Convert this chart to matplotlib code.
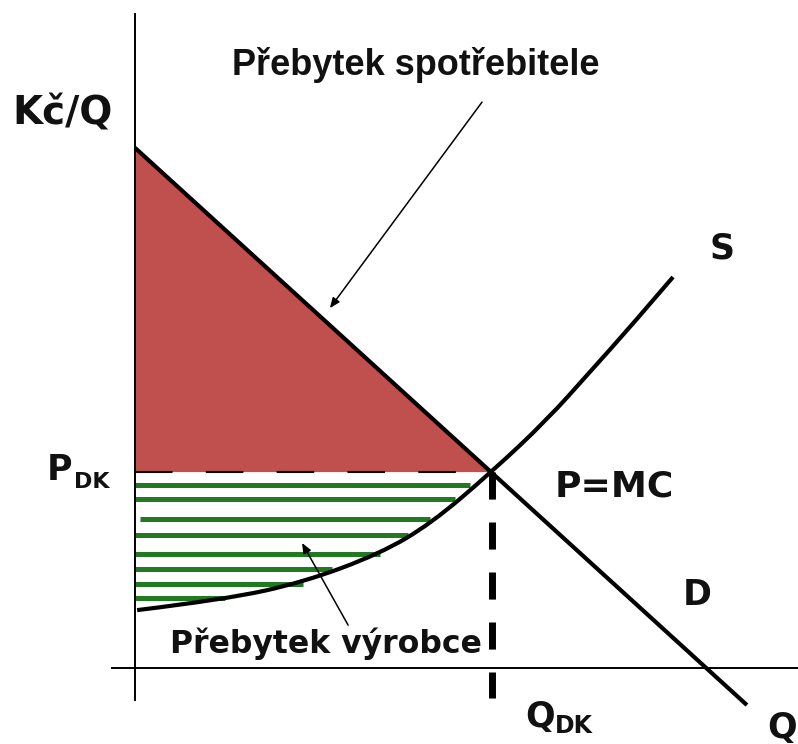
import matplotlib
matplotlib.use('Agg')
import matplotlib.pyplot as plt
from matplotlib.path import Path
from matplotlib.patches import PathPatch
import numpy as np

# Demand line (Q, P) - linear
demand_q = [0.0, 17.14]
demand_p = [14.57, -1.04]

# Supply curve points (Q, P)
supply_q = [0.06, 2.52, 4.71, 6.86, 8.30, 10.0, 11.54, 12.75, 13.87, 15.07]
supply_p = [1.62, 1.92, 2.40, 3.20, 4.05, 5.50, 6.95, 8.30, 9.55, 10.95]

# Equilibrium
q_dk = 10.0
p_dk = 5.5

# Producer surplus hatch lines: price level, start Q, end Q
hatch_p = [5.13, 4.73, 4.17, 3.72, 3.19, 2.77, 2.35, 1.96]
hatch_start = [0.0, 0.0, 0.14, 0.0, 0.0, 0.0, 0.0, 0.0]
hatch_end = [9.38, 8.96, 8.26, 7.65, 6.86, 5.52, 4.71, 2.52]

red = '#C0504D'
green = '#217A21'

fig = plt.figure(figsize=(7.98, 7.44), dpi=100)
ax = fig.add_axes([0, 0, 1, 1])
ax.set_xlim(-3.78, 18.57)
ax.set_ylim(-2.13, 18.71)
ax.axis('off')

# axes
ax.plot([0, 0], [-0.9, 18.32], color='black', lw=1.4, zorder=3)
ax.plot([-0.64, 18.57], [0, 0], color='black', lw=1.4, zorder=3)

# consumer surplus (between demand and P_DK)
qq = np.array([0.0, q_dk])
dp = np.interp(qq, demand_q, demand_p)
ax.fill_between(qq, dp, p_dk, color=red, lw=0, zorder=1)

# producer surplus hatching
for p, a, b in zip(hatch_p, hatch_start, hatch_end):
    ax.plot([a, b], [p, p], color=green, lw=3.6, solid_capstyle='butt', zorder=2)

# P_DK dashed line
ax.plot([0, q_dk], [p_dk, p_dk], color='black', lw=1.5,
        linestyle=(0, (18, 16)), zorder=3)
# Q_DK dashed line
ax.plot([q_dk, q_dk], [p_dk, -0.84], color='black', lw=5,
        linestyle=(0, (3.9, 3.3)), solid_capstyle='butt', zorder=3)

# demand
ax.plot(demand_q, demand_p, color='black', lw=3, solid_capstyle='butt', zorder=4)

# supply: smooth curve through the read points (quadratic segments via midpoints)
pts = np.column_stack([supply_q, supply_p])
verts = [pts[0]]
codes = [Path.MOVETO]
for i in range(1, len(pts) - 1):
    mid = (pts[i] + pts[i + 1]) / 2 if i < len(pts) - 2 else pts[i + 1]
    verts += [pts[i], mid]
    codes += [Path.CURVE3, Path.CURVE3]
ax.add_patch(PathPatch(Path(verts, codes), fill=False, edgecolor='black', lw=3,
                       capstyle='butt', zorder=4))

# arrows
arrow = dict(arrowstyle='-|>,head_length=0.6,head_width=0.25', color='black', lw=1.1,
             shrinkA=0, shrinkB=0)
ax.annotate('', xy=(5.46, 10.08), xytext=(9.72, 15.85), arrowprops=arrow, zorder=5)
ax.annotate('', xy=(4.68, 3.50), xytext=(5.97, 1.20), arrowprops=arrow, zorder=5)

# labels
bold = dict(family='DejaVu Sans', fontweight='bold', color='#111111')
ax.text(-3.42, 15.21, 'Kč/Q', fontsize=28, va='baseline', ha='left', **bold)
ax.text(2.72, 16.6, 'Přebytek spotřebitele', fontsize=26, va='baseline', ha='left',
        family='Liberation Sans', fontweight='bold', color='#111111')
ax.text(16.1, 11.48, 'S', fontsize=25, va='baseline', ha='left', **bold)
ax.text(11.76, 4.79, 'P=MC', fontsize=26, va='baseline', ha='left', **bold)
ax.text(15.35, 1.76, 'D', fontsize=25, va='baseline', ha='left', **bold)
ax.text(0.98, 0.42, 'Přebytek výrobce', fontsize=22.7, va='baseline', ha='left', **bold)
ax.text(-2.46, 5.27, 'P', fontsize=25, va='baseline', ha='left', **bold)
ax.text(-1.72, 5.04, 'DK', fontsize=16, va='baseline', ha='left', **bold)
ax.text(10.92, -1.65, 'Q', fontsize=25, va='baseline', ha='left', **bold)
ax.text(11.76, -1.82, 'DK', fontsize=17, va='baseline', ha='left', **bold)
ax.text(17.7, -1.96, 'Q', fontsize=25, va='baseline', ha='left', **bold)

fig.savefig('out.png', dpi=100)
